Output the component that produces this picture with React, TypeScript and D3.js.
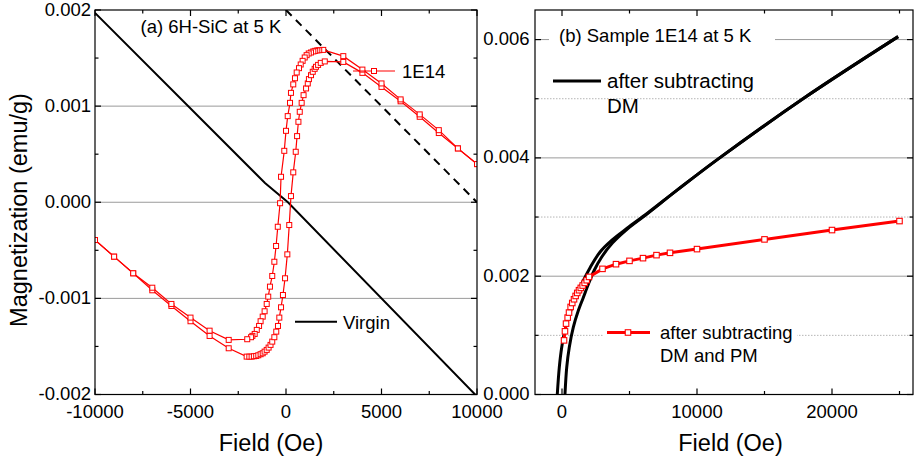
import React from "react";
import * as d3 from "d3";

// ---------- Panel (a): 6H-SiC at 5 K ----------
const descField = [10000, 9000, 8000, 7000, 6000, 5000, 4000, 3000, 1950, 1740, 1640, 1530, 1430, 1310, 1190, 1080, 980, 870, 770, 680, 560, 470, 380, 260, 210, 90, 0, -90, -260, -310, -430, -520, -610, -720, -840, -930, -1010, -1120, -1220, -1330, -1410, -1530, -1640, -1760, -1830, -2030, -3000, -4000, -5000, -6000, -7000, -8000, -9000, -10000];
const descMag = [0.000397, 0.00056, 0.00075, 0.000914, 0.00107, 0.001236, 0.00138, 0.00152, 0.001585, 0.001582, 0.00158, 0.001575, 0.001569, 0.001558, 0.001548, 0.00153, 0.001506, 0.001471, 0.001433, 0.001395, 0.00135, 0.00129, 0.001226, 0.001138, 0.001034, 0.000896, 0.000743, 0.000535, 0.000265, -0.00001, -0.000255, -0.000455, -0.000619, -0.000767, -0.000878, -0.000982, -0.001058, -0.001134, -0.00119, -0.001238, -0.001287, -0.001328, -0.00137, -0.00139, -0.001404, -0.001425, -0.001432, -0.001336, -0.0012, -0.001058, -0.000889, -0.000739, -0.000566, -0.000393];

const ascField = [-10000, -9000, -8000, -7000, -6000, -5000, -4000, -3000, -2060, -1920, -1800, -1680, -1560, -1450, -1330, -1220, -1120, -1010, -910, -810, -720, -610, -510, -420, -350, -260, -160, -50, 70, 170, 260, 380, 510, 580, 650, 720, 820, 920, 1050, 1140, 1200, 1310, 1400, 1500, 1570, 1680, 1820, 2030, 3000, 4000, 5000, 6000, 7000, 8000, 9000, 10000];
const ascMag = [-0.000393, -0.000566, -0.000739, -0.000916, -0.001079, -0.001238, -0.001391, -0.001519, -0.001606, -0.001606, -0.001606, -0.001602, -0.001599, -0.001592, -0.001581, -0.001571, -0.001554, -0.001536, -0.001512, -0.001484, -0.00145, -0.001404, -0.001346, -0.001287, -0.0012, -0.001093, -0.000965, -0.000791, -0.000542, -0.000237, 0.000064, 0.000311, 0.000525, 0.000688, 0.000837, 0.000941, 0.001034, 0.001114, 0.001184, 0.001236, 0.001281, 0.001322, 0.001357, 0.001388, 0.001409, 0.001429, 0.00145, 0.001465, 0.00146, 0.001346, 0.0012, 0.00105, 0.000889, 0.00072, 0.00056, 0.000397];

const virginField = [-10000, -1100, 100, 10000];
const virginMag = [0.00197, 0.0002, 0.0, -0.00202];
const dashField = [0, 10000];
const dashMag = [0.002, 0.0];

const aXTicks = [-10000, -5000, 0, 5000, 10000];
const aXTickLabels = ["-10000", "-5000", "0", "5000", "10000"];
const aXMinor = [-7500, -2500, 2500, 7500];
const aYTicks = [-0.002, -0.001, 0, 0.001, 0.002];
const aYTickLabels = ["-0.002", "-0.001", "0.000", "0.001", "0.002"];
const aYMinor = [-0.0015, -0.0005, 0.0005, 0.0015];
const aGrid = [-0.001, 0, 0.001];

// ---------- Panel (b): Sample 1E14 at 5 K ----------
const dm1Field = [-350, -200, -20, 220, 590, 960, 1480, 2070, 2820, 3700, 4820, 6300, 8500, 11500, 17850, 24900];
const dm1Mag = [0, 0.00046, 0.0008, 0.00109, 0.00137, 0.00163, 0.00188, 0.00214, 0.00241, 0.00261, 0.00281, 0.00306, 0.00345, 0.00397, 0.005, 0.00605];
const dm2Field = [220, 350, 540, 840, 1210, 1580, 1980, 2390, 2930, 3730, 4750, 6290, 8500, 11500, 17850, 24900];
const dm2Mag = [0, 0.00046, 0.0008, 0.00114, 0.00142, 0.00164, 0.00188, 0.0021, 0.00232, 0.00256, 0.00278, 0.00305, 0.00345, 0.00397, 0.005, 0.00605];

const pmField = [150, 220, 300, 420, 520, 640, 760, 890, 1010, 1130, 1260, 1390, 1530, 1680, 1830, 2000, 3000, 4000, 5000, 6000, 7000, 8000, 10000, 15000, 20000, 25000];
const pmMag = [0.000915, 0.001068, 0.001198, 0.0013, 0.001385, 0.00148, 0.001547, 0.00161, 0.001666, 0.001717, 0.001763, 0.001802, 0.001842, 0.001886, 0.001932, 0.001988, 0.002124, 0.002203, 0.002259, 0.002305, 0.002356, 0.002395, 0.002458, 0.002622, 0.00278, 0.002932];

const bXTicks = [0, 10000, 20000];
const bXTickLabels = ["0", "10000", "20000"];
const bXMinor = [5000, 15000, 25000];
const bYTicks = [0, 0.002, 0.004, 0.006];
const bYTickLabels = ["0.000", "0.002", "0.004", "0.006"];
const bYMinor = [0.001, 0.003, 0.005];
const bGridSolid = [0.002, 0.004, 0.006];
const bGridDotted = [0.001, 0.003, 0.005];

const FONT = "'Liberation Sans', Arial, Helvetica, sans-serif";
const RED = "#ff0000";
const TOP = 10;
const BOT = 394.5;

const xA = d3.scaleLinear().domain([-10000, 10000]).range([95, 477]);
const yA = d3.scaleLinear().domain([-0.002, 0.002]).range([BOT, TOP]);
const xB = d3.scaleLinear().domain([-2000, 26000]).range([535, 913]);
const yB = d3.scaleLinear().domain([0, 0.0065]).range([BOT, TOP]);

function pairs(a: number[], b: number[]): [number, number][] {
  return a.map((v, i) => [v, b[i]] as [number, number]);
}

function Frame({ xs, ys, xMaj, xMin, yMaj, yMin }: any) {
  const [x0, x1] = xs.range();
  const [y0, y1] = ys.range();
  const M = 6, m = 3.5;
  return (
    <g stroke="#000" strokeWidth={1.2} fill="none">
      {xMaj.map((t: number) => (
        <g key={"xM" + t}>
          <line x1={xs(t)} x2={xs(t)} y1={y0} y2={y0 - M} />
          <line x1={xs(t)} x2={xs(t)} y1={y1} y2={y1 + M} />
        </g>
      ))}
      {xMin.map((t: number) => (
        <g key={"xm" + t}>
          <line x1={xs(t)} x2={xs(t)} y1={y0} y2={y0 - m} />
          <line x1={xs(t)} x2={xs(t)} y1={y1} y2={y1 + m} />
        </g>
      ))}
      {yMaj.map((t: number) => (
        <g key={"yM" + t}>
          <line x1={x0} x2={x0 + M} y1={ys(t)} y2={ys(t)} />
          <line x1={x1} x2={x1 - M} y1={ys(t)} y2={ys(t)} />
        </g>
      ))}
      {yMin.map((t: number) => (
        <g key={"ym" + t}>
          <line x1={x0} x2={x0 + m} y1={ys(t)} y2={ys(t)} />
          <line x1={x1} x2={x1 - m} y1={ys(t)} y2={ys(t)} />
        </g>
      ))}
      <rect x={x0} y={y1} width={x1 - x0} height={y0 - y1} />
    </g>
  );
}

function Squares({ data, xs, ys, size, sw }: any) {
  return (
    <g>
      {data.map((d: [number, number], i: number) => (
        <rect key={i} x={xs(d[0]) - size / 2} y={ys(d[1]) - size / 2} width={size} height={size}
          fill="#fff" stroke={RED} strokeWidth={sw} />
      ))}
    </g>
  );
}

export default function App() {
  const lineA = d3.line<[number, number]>().x(d => xA(d[0])).y(d => yA(d[1]));
  const lineB = d3.line<[number, number]>().x(d => xB(d[0])).y(d => yB(d[1]));
  const smoothB = d3.line<[number, number]>().x(d => xB(d[0])).y(d => yB(d[1])).curve(d3.curveCatmullRom.alpha(0.5));
  const desc = pairs(descField, descMag);
  const asc = pairs(ascField, ascMag);
  const virgin = pairs(virginField, virginMag);
  const dash = pairs(dashField, dashMag);
  const dm1 = pairs(dm1Field, dm1Mag);
  const dm2 = pairs(dm2Field, dm2Mag);
  const pm = pairs(pmField, pmMag);
  const fs = 18.5;

  return (
    <svg width={914} height={458} style={{ position: "absolute", left: 0, top: 0, background: "#fff" }}
      fontFamily={FONT}>
      <defs>
        <clipPath id="clipA"><rect x={95} y={TOP} width={382} height={BOT - TOP} /></clipPath>
        <clipPath id="clipB"><rect x={535} y={TOP} width={378} height={BOT - TOP} /></clipPath>
      </defs>
      <rect x={0} y={0} width={914} height={458} fill="#fff" />

      {/* ---------- Panel A ---------- */}
      <g>
        {aGrid.map(g => (
          <line key={g} x1={95} x2={477} y1={yA(g)} y2={yA(g)} stroke="#9a9a9a" strokeWidth={1} />
        ))}
        <g clipPath="url(#clipA)">
          <path d={lineA(virgin) || ""} fill="none" stroke="#000" strokeWidth={2} />
          <path d={lineA(dash) || ""} fill="none" stroke="#000" strokeWidth={2} strokeDasharray="8,6" />
          <path d={lineA(asc) || ""} fill="none" stroke={RED} strokeWidth={1.2} />
          <path d={lineA(desc) || ""} fill="none" stroke={RED} strokeWidth={1.2} />
          <Squares data={asc} xs={xA} ys={yA} size={5} sw={1} />
          <Squares data={desc} xs={xA} ys={yA} size={5} sw={1} />
        </g>
        <text x={140.5} y={33} fontSize={fs}>(a) 6H-SiC at 5 K</text>
        <line x1={353} x2={395} y1={71} y2={71} stroke={RED} strokeWidth={1.2} />
        <rect x={374 - 2.5} y={71 - 2.5} width={5} height={5} fill="#fff" stroke={RED} strokeWidth={1} />
        <text x={402} y={77.5} fontSize={fs}>1E14</text>
        <line x1={295} x2={337} y1={321.7} y2={321.7} stroke="#000" strokeWidth={2} />
        <text x={343} y={328.5} fontSize={fs}>Virgin</text>

        <Frame xs={xA} ys={yA} xMaj={aXTicks} xMin={aXMinor} yMaj={aYTicks} yMin={aYMinor} />
        {aXTicks.map((t, i) => (
          <text key={t} x={xA(t)} y={417.5} fontSize={fs} textAnchor="middle">{aXTickLabels[i]}</text>
        ))}
        {aYTicks.map((t, i) => (
          <text key={t} x={91} y={yA(t) + 5.5} fontSize={fs} textAnchor="end">{aYTickLabels[i]}</text>
        ))}
        <text x={271} y={450.5} fontSize={23.5} textAnchor="middle">Field (Oe)</text>
        <text transform="translate(27,210) rotate(-90)" fontSize={23.5} textAnchor="middle">Magnetization (emu/g)</text>
      </g>

      {/* ---------- Panel B ---------- */}
      <g>
        {bGridDotted.map(g => (
          <line key={g} x1={535} x2={913} y1={yB(g)} y2={yB(g)} stroke="#b5b5b5" strokeWidth={1} strokeDasharray="1.5,1.5" />
        ))}
        {bGridSolid.map(g => (
          <line key={g} x1={535} x2={913} y1={yB(g)} y2={yB(g)} stroke="#9a9a9a" strokeWidth={1} />
        ))}
        <g clipPath="url(#clipB)">
          <path d={smoothB(dm2) || ""} fill="none" stroke="#000" strokeWidth={3} />
          <path d={smoothB(dm1) || ""} fill="none" stroke="#000" strokeWidth={3} />
          <path d={lineB(pm) || ""} fill="none" stroke={RED} strokeWidth={3} />
          <Squares data={pm} xs={xB} ys={yB} size={5.5} sw={1.1} />
        </g>
        <rect x={549} y={24} width={226} height={26} fill="#fff" />
        <text x={559} y={42} fontSize={fs}>(b) Sample 1E14 at 5 K</text>

        <line x1={553} x2={601} y1={81} y2={81} stroke="#000" strokeWidth={3} />
        <text x={607} y={88} fontSize={20.5}>after subtracting</text>
        <text x={607} y={113.3} fontSize={20.5}>DM</text>

        <rect x={604} y={318} width={193} height={50} fill="#fff" />
        <line x1={607} x2={650} y1={332.5} y2={332.5} stroke={RED} strokeWidth={3} />
        <rect x={628 - 2.75} y={332.5 - 2.75} width={5.5} height={5.5} fill="#fff" stroke={RED} strokeWidth={1.1} />
        <text x={660} y={338.5} fontSize={fs}>after subtracting</text>
        <text x={660} y={362} fontSize={fs}>DM and PM</text>

        <Frame xs={xB} ys={yB} xMaj={bXTicks} xMin={bXMinor} yMaj={bYTicks} yMin={bYMinor} />
        {bXTicks.map((t, i) => (
          <text key={t} x={xB(t)} y={417.5} fontSize={fs} textAnchor="middle">{bXTickLabels[i]}</text>
        ))}
        {bYTicks.map((t, i) => (
          <text key={t} x={529.5} y={yB(t) + 5.5} fontSize={fs} textAnchor="end">{bYTickLabels[i]}</text>
        ))}
        <text x={730.5} y={450.5} fontSize={23.5} textAnchor="middle">Field (Oe)</text>
      </g>
    </svg>
  );
}
